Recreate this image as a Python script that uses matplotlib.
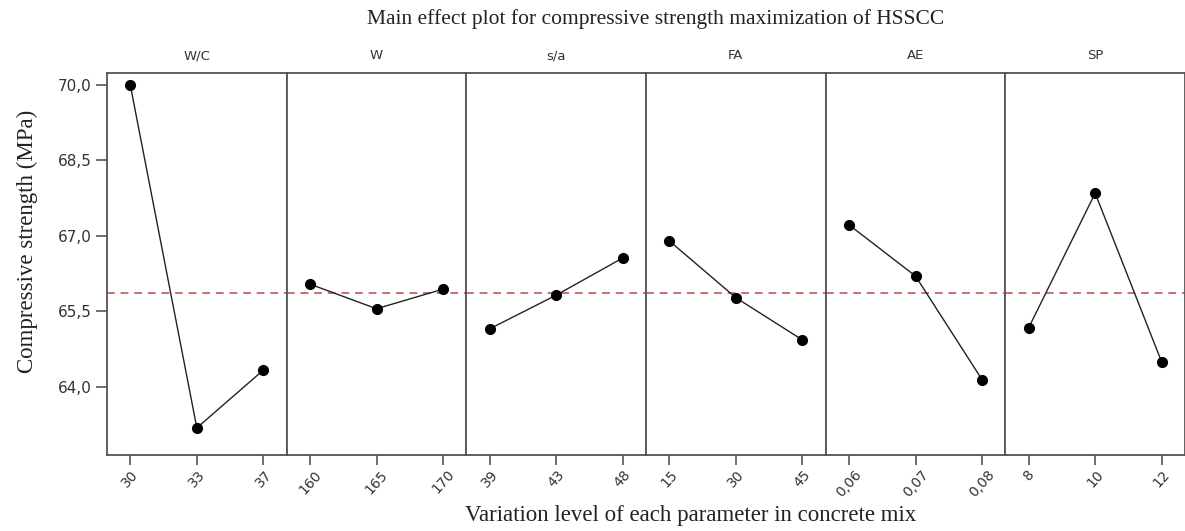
import numpy as np
import matplotlib
matplotlib.use("Agg")
import matplotlib.pyplot as plt

# Fatores e níveis
fatores = ["W/C", "W", "s/a", "FA", "AE", "SP"]
niveis = [
    ["30", "33", "37"],
    ["160", "165", "170"],
    ["39", "43", "48"],
    ["15", "30", "45"],
    ["0,06", "0,07", "0,08"],
    ["8", "10", "12"],
]
# Médias de resistência (MPa) por nível
medias = [
    [70.00, 63.18, 64.33],
    [66.04, 65.55, 65.94],
    [65.15, 65.82, 66.56],
    [66.90, 65.77, 64.93],
    [67.22, 66.20, 64.14],
    [65.17, 67.85, 64.49],
]
media_geral = 65.86
yticks = [64.0, 65.5, 67.0, 68.5, 70.0]

plt.rcParams["font.family"] = ["DejaVu Sans"]

fig, axes = plt.subplots(1, 6, figsize=(11.85, 5.31), dpi=100, sharey=True)
fig.subplots_adjust(left=0.0903, right=1.0, top=0.8625, bottom=0.1431, wspace=0)

cor_borda = "#555555"
for i, ax in enumerate(axes):
    x = np.arange(len(niveis[i]))
    ax.plot(x, medias[i], color="#222222", lw=1.0, marker="o", ms=7,
            mfc="black", mec="black", zorder=3)
    ax.axhline(media_geral, color="#c97070", ls=(0, (4, 3)), lw=1.4, zorder=2)
    ax.set_xlim(-0.35, 2.35)
    ax.set_ylim(62.64, 70.24)
    ax.set_xticks(x)
    ax.set_xticklabels(niveis[i], rotation=48, fontsize=10, color="#333333",
                       ha="center", va="top")
    ax.tick_params(axis="x", length=7, width=1.2, color=cor_borda, pad=2)
    ax.set_title(fatores[i], fontsize=9.5, color="#333333", pad=10)
    for s in ax.spines.values():
        s.set_color(cor_borda)
        s.set_linewidth(1.3)
    if i > 0:
        ax.tick_params(axis="y", left=False)

axes[0].set_yticks(yticks)
axes[0].set_yticklabels([f"{v:.1f}".replace(".", ",") for v in yticks],
                        fontsize=11, color="#333333")
axes[0].tick_params(axis="y", length=8, width=1.2, color=cor_borda, pad=3)
axes[0].set_ylabel("Compressive strength (MPa)", family="Liberation Serif",
                   fontsize=16.5, color="#222222")
axes[0].yaxis.set_label_coords(-0.385, 0.56)

fig.text(0.553, 0.965, "Main effect plot for compressive strength maximization of HSSCC",
         family="Liberation Serif", fontsize=15.5, color="#222222", ha="center", va="center")
fig.text(0.583, 0.03, "Variation level of each parameter in concrete mix",
         family="Liberation Serif", fontsize=16.5, color="#222222", ha="center", va="center")

fig.savefig("out.png", dpi=100)
